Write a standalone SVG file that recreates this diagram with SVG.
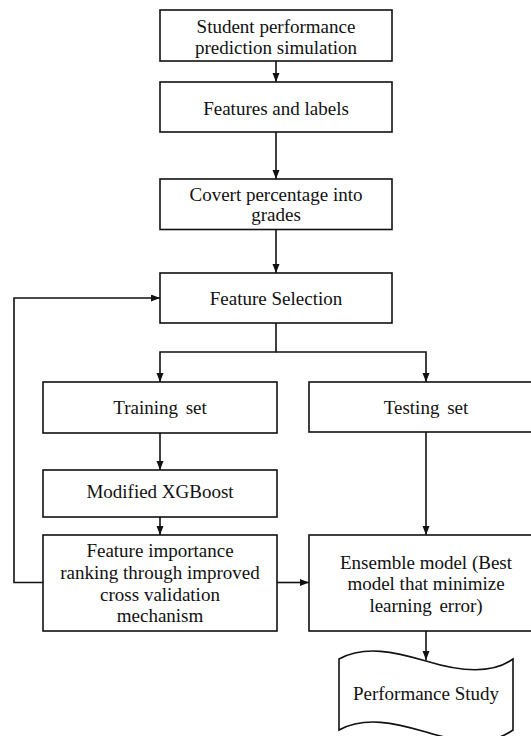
<svg xmlns="http://www.w3.org/2000/svg" width="531" height="736" viewBox="0 0 531 736">
<style>
.box{fill:#fff;stroke:#111;stroke-width:1.6}
.ln{fill:none;stroke:#111;stroke-width:1.6}
.t{font-family:'Liberation Serif',serif;font-size:19px;fill:#111;text-anchor:middle}
</style>
<defs>
<marker id="ah" markerUnits="userSpaceOnUse" markerWidth="10" markerHeight="8" refX="9" refY="3.5" orient="auto">
<path d="M0,0 L9,3.5 L0,7 z" fill="#111"/>
</marker>
</defs>
<rect width="531" height="736" fill="#fff"/>
<g id="connectors">
<line class="ln" x1="276" y1="61" x2="276" y2="82" marker-end="url(#ah)"/>
<line class="ln" x1="276" y1="132" x2="276" y2="179" marker-end="url(#ah)"/>
<line class="ln" x1="276" y1="229.5" x2="276" y2="273" marker-end="url(#ah)"/>
<polyline class="ln" points="43,582.5 14,582.5 14,298 160,298" marker-end="url(#ah)"/>
<polyline class="ln" points="276,323 276,352 160,352 160,382" marker-end="url(#ah)"/>
<polyline class="ln" points="276,352 426,352 426,382" marker-end="url(#ah)"/>
<line class="ln" x1="160" y1="433" x2="160" y2="470" marker-end="url(#ah)"/>
<line class="ln" x1="160" y1="517" x2="160" y2="535" marker-end="url(#ah)"/>
<line class="ln" x1="426" y1="432" x2="426" y2="535" marker-end="url(#ah)"/>
<line class="ln" x1="277" y1="582.5" x2="309" y2="582.5" marker-end="url(#ah)"/>
<line class="ln" x1="426" y1="631" x2="426" y2="660" marker-end="url(#ah)"/>
</g>
<g id="n1">
<rect class="box" x="160" y="10" width="232" height="51"/>
<text class="t" x="276" y="33">Student performance</text>
<text class="t" x="276" y="53.5">prediction simulation</text>
</g>
<g id="n2">
<rect class="box" x="160" y="82" width="232" height="50"/>
<text class="t" x="276" y="115">Features and labels</text>
</g>
<g id="n3">
<rect class="box" x="160" y="179" width="232" height="50.5"/>
<text class="t" x="276" y="200.5">Covert percentage into</text>
<text class="t" x="276" y="221">grades</text>
</g>
<g id="n4">
<rect class="box" x="160" y="273" width="232" height="50"/>
<text class="t" x="276" y="305">Feature Selection</text>
</g>
<g id="n5">
<rect class="box" x="43" y="382" width="234" height="51"/>
<text class="t" x="160" y="414" word-spacing="3">Training set</text>
</g>
<g id="n6">
<rect class="box" x="309" y="382" width="234" height="50"/>
<text class="t" x="426" y="414" word-spacing="3">Testing set</text>
</g>
<g id="n7">
<rect class="box" x="43" y="470" width="234" height="47"/>
<text class="t" x="160" y="498">Modified XGBoost</text>
</g>
<g id="n8">
<rect class="box" x="43" y="535" width="234" height="96"/>
<text class="t" x="160" y="557">Feature importance</text>
<text class="t" x="160" y="579">ranking through improved</text>
<text class="t" x="160" y="600.5">cross validation</text>
<text class="t" x="160" y="621.5">mechanism</text>
</g>
<g id="n9">
<rect class="box" x="309" y="535" width="234" height="96"/>
<text class="t" x="426" y="568.5">Ensemble model (Best</text>
<text class="t" x="426" y="590">model that minimize</text>
<text class="t" x="426" y="611.5" word-spacing="3">learning error)</text>
</g>
<g id="n10">
<path class="box" d="M339,659 C365,645 395,652 426,661 C455,670 490,676 513,659 L513,730 C490,747 455,741 426,732 C395,723 365,716 339,730 Z"/>
<text class="t" x="426" y="699.5">Performance Study</text>
</g>
</svg>
